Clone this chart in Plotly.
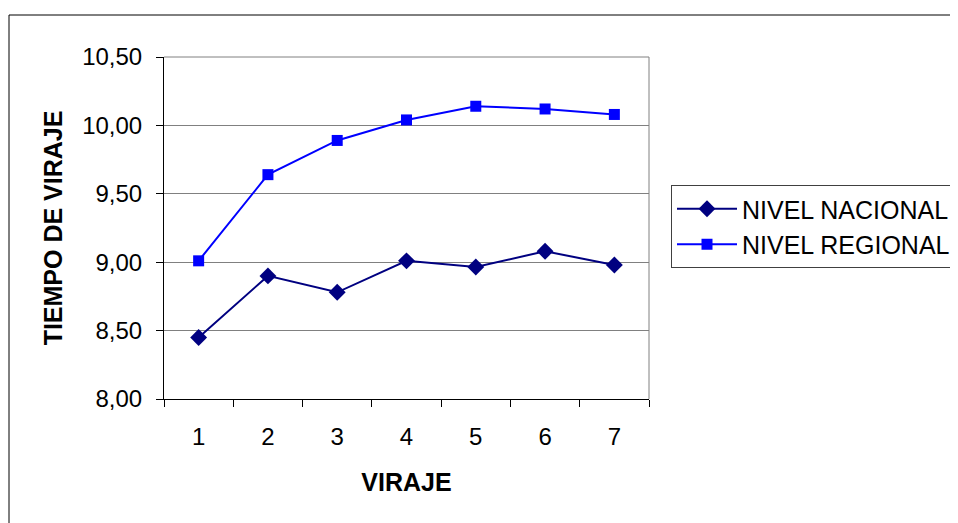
import plotly.graph_objects as go

categories = ["1", "2", "3", "4", "5", "6", "7"]
nacional = [8.45, 8.90, 8.78, 9.01, 8.965, 9.08, 8.98]
regional = [9.01, 9.64, 9.89, 10.04, 10.14, 10.12, 10.08]
ytick_vals = [8.0, 8.5, 9.0, 9.5, 10.0, 10.5]

FONT = "Liberation Sans, Arial, sans-serif"

fig = go.Figure()
fig.add_trace(go.Scatter(
    x=categories, y=nacional, name="NIVEL NACIONAL", mode="lines+markers",
    line=dict(color="#000080", width=2),
    marker=dict(symbol="diamond", size=13, color="#000080"),
))
fig.add_trace(go.Scatter(
    x=categories, y=regional, name="NIVEL REGIONAL", mode="lines+markers",
    line=dict(color="#0000FF", width=2),
    marker=dict(symbol="square", size=11, color="#0000FF"),
))

# page body adds an 8px offset, so figure coords = screen coords - 8
OFF = 8
W, H = 958 - OFF, 523 - OFF
L, R, T, B = 164 - OFF, 649 - OFF, 57 - OFF, 399 - OFF

def px(x):
    return (x - OFF - L) / (R - L)

def py(y):
    return (B - (y - OFF)) / (B - T)

fig.update_layout(
    width=W, height=H,
    margin=dict(l=L, r=W - R, t=T, b=H - B, autoexpand=False),
    paper_bgcolor="white", plot_bgcolor="white",
    separators=",.",
    font=dict(family=FONT, size=24, color="black"),
    showlegend=True,
    legend=dict(
        x=px(671), y=py(185), xanchor="left", yanchor="top",
        bordercolor="#404040", borderwidth=1, bgcolor="white",
        font=dict(family=FONT, size=25, color="black"),
        tracegroupgap=0, itemwidth=60,
    ),
    xaxis=dict(
        type="category", range=[-0.5, 6.5],
        showgrid=False, showline=True, linecolor="black", linewidth=1,
        mirror=False, ticks="outside", ticklen=7, tickcolor="black",
        tickson="boundaries", ticklabelstandoff=16,
        tickfont=dict(family=FONT, size=24),
        title=dict(text="<b>VIRAJE</b>", font=dict(family=FONT, size=25), standoff=24),
    ),
    yaxis=dict(
        range=[8.0, 10.5], tickvals=ytick_vals, tickformat=".2f",
        showgrid=True, gridcolor="#808080", gridwidth=1,
        showline=True, linecolor="black", linewidth=1,
        ticks="outside", ticklen=7, tickcolor="black", ticklabelstandoff=9,
        tickfont=dict(family=FONT, size=24),
        title=dict(text="<b>TIEMPO DE VIRAJE</b>", font=dict(family=FONT, size=25), standoff=12),
        zeroline=False,
    ),
    shapes=[
        dict(type="line", xref="paper", yref="paper", x0=0, x1=1, y0=1, y1=1,
             line=dict(color="#808080", width=1)),
        dict(type="line", xref="paper", yref="paper", x0=1, x1=1, y0=0, y1=1,
             line=dict(color="#808080", width=1)),
        # outer chart border (left and top edges visible)
        dict(type="line", xref="paper", yref="paper",
             x0=px(9), x1=px(9), y0=py(523), y1=py(15),
             line=dict(color="black", width=1), layer="below"),
        dict(type="line", xref="paper", yref="paper",
             x0=px(9), x1=px(960), y0=py(15), y1=py(15),
             line=dict(color="black", width=1), layer="below"),
    ],
)

fig.write_html("out.html")
